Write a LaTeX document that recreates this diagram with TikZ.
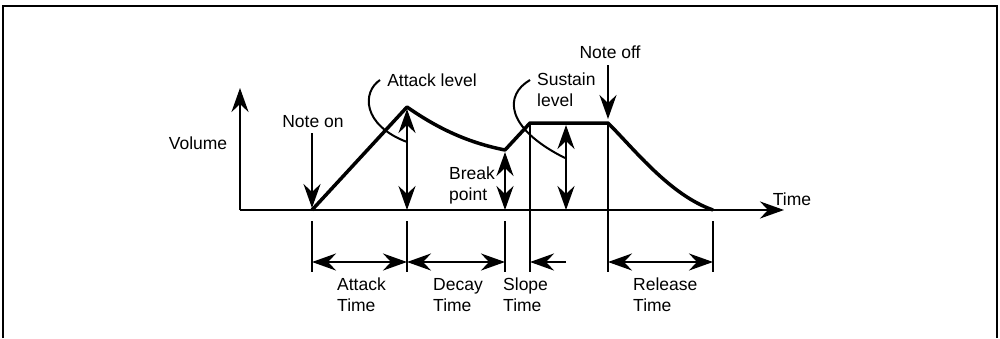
\documentclass[tikz,border=0pt]{standalone}
\usepackage{fontspec}
\setmainfont{Liberation Sans}
\usetikzlibrary{arrows.meta}
\begin{document}
\begin{tikzpicture}[x=1pt,y=-1pt,
  bigtip/.tip={Stealth[length=24pt,width=17pt,inset=8pt]},
  lbl/.style={inner sep=0pt,font=\fontsize{17.5}{21}\selectfont,align=left},
  env/.style={line width=3.5pt,line join=round},
  axis/.style={line width=2.8pt},
  arr/.style={line width=2.6pt},
  tick/.style={line width=2.3pt},
  pointer/.style={line width=2pt},
  frame/.style={line width=1.6pt}]
\useasboundingbox (0,0) rectangle (1000,338);
% frame
\draw[frame] (3,338) -- (3,6) -- (997,6) -- (997,338);
% key points
\coordinate (O) at (240,210);
\coordinate (ytip) at (240,88);
\coordinate (xtip) at (784,210);
\coordinate (A0) at (312,210);
\coordinate (P) at (407,107);
\coordinate (B) at (505,150);
\coordinate (S1) at (530,123);
\coordinate (S2) at (608,123);
\coordinate (R) at (713,210);
% axes
\draw[axis,-bigtip] (O) -- (ytip);
\draw[axis,-bigtip] (O) -- (xtip);
% envelope
\draw[env] (A0) -- (P) .. controls (440,130) and (470,143) .. (B) -- (S1) -- (S2)
  .. controls (635,150) and (670,195) .. (R);
% labels
\node[lbl] (volume) at (198,143) {Volume};
\node[lbl] (noteon) at (313,122) {Note on};
\node[lbl] (attlev) at (432,80) {Attack level};
\node[lbl,anchor=west] (brk) at (449,185) {Break\\point};
\node[lbl,anchor=west] (suslev) at (537,90) {Sustain\\level};
\node[lbl] (noteoff) at (610,52) {Note off};
\node[lbl] (time) at (792,199) {Time};
\node[lbl,anchor=west] (att) at (337,295) {Attack\\Time};
\node[lbl,anchor=west] (dec) at (433,295) {Decay\\Time};
\node[lbl,anchor=west] (slo) at (503,295) {Slope\\Time};
\node[lbl,anchor=west] (rel) at (633,295) {Release\\Time};
% note on / off arrows
\coordinate (non) at (312,133);
\coordinate (nonE) at (312,208);
\draw[arr,-bigtip] (non) -- (nonE);
\coordinate (noff) at (608,65);
\coordinate (noffE) at (608,119);
\draw[arr,-bigtip] (noff) -- (noffE);
% level double arrows
\coordinate (alT) at (407,109);
\coordinate (alB) at (407,210);
\draw[arr,bigtip-bigtip] (alT) -- (alB);
\coordinate (bpT) at (505,152);
\coordinate (bpB) at (505,210);
\draw[arr,bigtip-bigtip] (bpT) -- (bpB);
\coordinate (slT) at (566,125);
\coordinate (slB) at (566,210);
\draw[arr,bigtip-bigtip] (slT) -- (slB);
% pointer curves
\coordinate (alp) at (380,80);
\coordinate (alq) at (407,142);
\draw[pointer] (alp) .. controls (362,92) and (362,125) .. (alq);
\coordinate (slp) at (530,80);
\coordinate (slq) at (565,158);
\draw[pointer] (slp) .. controls (504,95) and (505,128) .. (slq);
% vertical ticks
\foreach \n/\x in {t1/312,t2/407,t3/505,t6/713}{
  \coordinate (\n a) at (\x,221);
  \coordinate (\n b) at (\x,272);
  \draw[tick] (\n a) -- (\n b);
}
\coordinate (t4b) at (530,272);
\coordinate (t5b) at (608,272);
\draw[tick] (S1) -- (t4b);
\draw[tick] (S2) -- (t5b);
% time dimension arrows
\coordinate (d1) at (312,262);
\coordinate (d2) at (407,262);
\coordinate (d3) at (505,262);
\coordinate (d4) at (530,262);
\coordinate (d4e) at (566,262);
\coordinate (d5) at (608,262);
\coordinate (d6) at (713,262);
\draw[arr,bigtip-bigtip] (d1) -- (d2);
\draw[arr,bigtip-bigtip] (d2) -- (d3);
\draw[arr,-bigtip] (d4e) -- (d4);
\draw[arr,bigtip-bigtip] (d5) -- (d6);
\end{tikzpicture}
\end{document}
